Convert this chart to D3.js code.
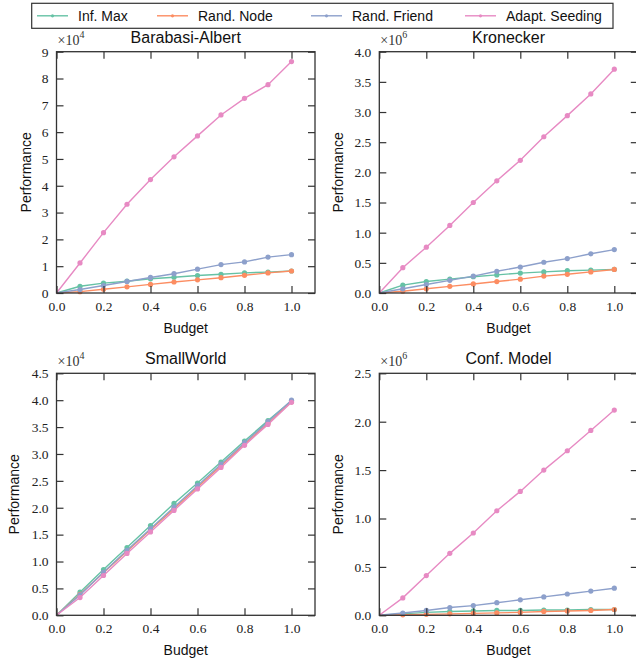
<!DOCTYPE html>
<html>
<head>
<meta charset="utf-8">
<script src="https://cdn.jsdelivr.net/npm/d3@7"></script>
<style>
html,body{margin:0;padding:0;background:#fff;}
svg{display:block;}
</style>
</head>
<body>
<script>
// ---- data ----
const budget = [0, 0.1, 0.2, 0.3, 0.4, 0.5, 0.6, 0.7, 0.8, 0.9, 1.0];
const seriesNames = ["Inf. Max", "Rand. Node", "Rand. Friend", "Adapt. Seeding"];
const seriesColors = ["#66c2a5", "#fc8d62", "#8da0cb", "#e78ac3"];

// Barabasi-Albert (x1e4)
const baInfMax   = [0, 0.25, 0.37, 0.44, 0.53, 0.59, 0.65, 0.70, 0.75, 0.78, 0.82];
const baRandNode = [0, 0.05, 0.14, 0.23, 0.32, 0.41, 0.49, 0.57, 0.66, 0.75, 0.82];
const baRandFr   = [0, 0.13, 0.28, 0.43, 0.58, 0.72, 0.89, 1.06, 1.16, 1.34, 1.43];
const baAdapt    = [0, 1.12, 2.25, 3.31, 4.23, 5.08, 5.86, 6.64, 7.26, 7.77, 8.63];

// Kronecker (x1e6)
const krInfMax   = [0, 0.13, 0.19, 0.23, 0.27, 0.30, 0.33, 0.35, 0.37, 0.38, 0.39];
const krRandNode = [0, 0.03, 0.07, 0.11, 0.15, 0.19, 0.23, 0.28, 0.31, 0.35, 0.39];
const krRandFr   = [0, 0.07, 0.14, 0.21, 0.28, 0.36, 0.43, 0.51, 0.57, 0.65, 0.72];
const krAdapt    = [0, 0.42, 0.76, 1.12, 1.50, 1.86, 2.20, 2.59, 2.94, 3.30, 3.71];

// SmallWorld (x1e4)
const swInfMax   = [0, 0.43, 0.85, 1.26, 1.67, 2.08, 2.46, 2.85, 3.24, 3.62, 3.99];
const swRandNode = [0, 0.39, 0.79, 1.19, 1.59, 1.98, 2.38, 2.78, 3.18, 3.57, 3.97];
const swRandFr   = [0, 0.38, 0.80, 1.21, 1.61, 2.01, 2.41, 2.81, 3.21, 3.60, 4.00];
const swAdapt    = [0, 0.33, 0.74, 1.15, 1.55, 1.95, 2.35, 2.75, 3.16, 3.55, 3.96];

// Conf. Model (x1e6)
const cmInfMax   = [0, 0.015, 0.03, 0.04, 0.045, 0.05, 0.05, 0.055, 0.055, 0.06, 0.06];
const cmRandNode = [0, 0.005, 0.01, 0.015, 0.02, 0.025, 0.03, 0.04, 0.045, 0.05, 0.06];
const cmRandFr   = [0, 0.024, 0.05, 0.08, 0.10, 0.13, 0.16, 0.19, 0.22, 0.25, 0.28];
const cmAdapt    = [0, 0.18, 0.41, 0.64, 0.85, 1.08, 1.28, 1.50, 1.70, 1.91, 2.12];

const xTicks = [0, 0.2, 0.4, 0.6, 0.8, 1.0];
const baYTicks = [0, 1, 2, 3, 4, 5, 6, 7, 8, 9];
const krYTicks = [0, 0.5, 1.0, 1.5, 2.0, 2.5, 3.0, 3.5, 4.0];
const swYTicks = [0, 0.5, 1.0, 1.5, 2.0, 2.5, 3.0, 3.5, 4.0, 4.5];
const cmYTicks = [0, 0.5, 1.0, 1.5, 2.0, 2.5];

const panels = [
  {title: "Barabasi-Albert", exp: "4", yMax: 9, yTicks: baYTicks, fmt: d3.format("d"), labOff: 26,
   series: [baInfMax, baRandNode, baRandFr, baAdapt], box: [56.5, 315, 51.7, 293]},
  {title: "Kronecker", exp: "6", yMax: 4.0, yTicks: krYTicks, fmt: d3.format(".1f"), labOff: 36.5,
   series: [krInfMax, krRandNode, krRandFr, krAdapt], box: [379.3, 637.8, 51.7, 293]},
  {title: "SmallWorld", exp: "4", yMax: 4.5, yTicks: swYTicks, fmt: d3.format(".1f"), labOff: 37.5,
   series: [swInfMax, swRandNode, swRandFr, swAdapt], box: [56.5, 315, 373.3, 615.3]},
  {title: "Conf. Model", exp: "6", yMax: 2.5, yTicks: cmYTicks, fmt: d3.format(".1f"), labOff: 36.5,
   series: [cmInfMax, cmRandNode, cmRandFr, cmAdapt], box: [379.3, 637.8, 373.3, 615.3]}
];

const W = 636, H = 662;
const svg = d3.select("body").append("svg").attr("width", W).attr("height", H);

const serif = "'Liberation Serif', 'DejaVu Serif', serif";
const sans = "'Liberation Sans', Arial, sans-serif";
const axisColor = "#333";
const tickLen = 7;

panels.forEach(p => {
  const [x0, x1, y0, y1] = p.box;
  const x = d3.scaleLinear().domain([0, 1.1]).range([x0, x1]);
  const y = d3.scaleLinear().domain([0, p.yMax]).range([y1, y0]);
  const g = svg.append("g");

  // series
  p.series.forEach((vals, i) => {
    const pts = budget.map((b, j) => [b, vals[j]]);
    g.append("path")
      .attr("d", d3.line().x(d => x(d[0])).y(d => y(d[1]))(pts))
      .attr("fill", "none").attr("stroke", seriesColors[i]).attr("stroke-width", 1.4);
    g.selectAll(null).data(pts.slice(1)).enter().append("circle")
      .attr("cx", d => x(d[0])).attr("cy", d => y(d[1])).attr("r", 2.6)
      .attr("fill", seriesColors[i]);
  });

  // axes: bottom/left with labels, top/right mirrored, all ticks inward
  const bottom = d3.axisBottom(x).tickValues(xTicks).tickFormat(d3.format(".1f")).tickSize(-tickLen).tickPadding(8.5);
  const top = d3.axisTop(x).tickValues(xTicks).tickFormat("").tickSize(-tickLen);
  const left = d3.axisLeft(y).tickValues(p.yTicks).tickFormat(p.fmt).tickSize(-tickLen).tickPadding(8);
  const right = d3.axisRight(y).tickValues(p.yTicks).tickFormat("").tickSize(-tickLen);

  const gb = g.append("g").attr("transform", `translate(0,${y1})`).call(bottom);
  const gt = g.append("g").attr("transform", `translate(0,${y0})`).call(top);
  const gl = g.append("g").attr("transform", `translate(${x0},0)`).call(left);
  const gr = g.append("g").attr("transform", `translate(${x1},0)`).call(right);
  [gb, gt, gl, gr].forEach(a => {
    a.select(".domain").remove();
    a.selectAll(".tick line").attr("stroke", axisColor).attr("stroke-width", 1.2);
    a.selectAll(".tick text").attr("font-family", serif).attr("font-size", 13.5).attr("fill", "#222");
  });

  // frame
  g.append("rect").attr("x", x0).attr("y", y0).attr("width", x1 - x0).attr("height", y1 - y0)
    .attr("fill", "none").attr("stroke", axisColor).attr("stroke-width", 1.3);

  // title
  g.append("text").attr("x", (x0 + x1) / 2).attr("y", y0 - 9)
    .attr("text-anchor", "middle").attr("font-family", sans).attr("font-size", 16).attr("fill", "#111")
    .text(p.title);

  // offset text
  const ot = g.append("text").attr("x", x0 + 1).attr("y", y0 - 7)
    .attr("font-family", serif).attr("font-size", 14).attr("fill", "#333");
  ot.append("tspan").text("\u00d710");
  ot.append("tspan").attr("font-size", 10).attr("dy", -7).text(p.exp);

  // axis labels
  g.append("text").attr("x", (x0 + x1) / 2).attr("y", y1 + 40)
    .attr("text-anchor", "middle").attr("font-family", sans).attr("font-size", 14).attr("fill", "#111")
    .text("Budget");
  g.append("text")
    .attr("transform", `translate(${x0 - p.labOff},${(y0 + y1) / 2}) rotate(-90)`)
    .attr("text-anchor", "middle").attr("font-family", sans).attr("font-size", 14).attr("fill", "#111")
    .text("Performance");
});

// legend
const lg = svg.append("g");
lg.append("rect").attr("x", 31.7).attr("y", 3.3).attr("width", 613 - 31.7).attr("height", 25)
  .attr("fill", "#fff").attr("stroke", "#333").attr("stroke-width", 1.2);
const legendX = [37, 157, 311, 465];
seriesNames.forEach((n, i) => {
  const lx = legendX[i];
  lg.append("line").attr("x1", lx).attr("x2", lx + 31).attr("y1", 15.8).attr("y2", 15.8)
    .attr("stroke", seriesColors[i]).attr("stroke-width", 1.4);
  lg.append("circle").attr("cx", lx + 15.5).attr("cy", 15.8).attr("r", 1.6).attr("fill", seriesColors[i]);
  lg.append("text").attr("x", lx + 41).attr("y", 21).attr("font-family", sans).attr("font-size", 14)
    .attr("fill", "#111").text(n);
});
</script>
</body>
</html>
